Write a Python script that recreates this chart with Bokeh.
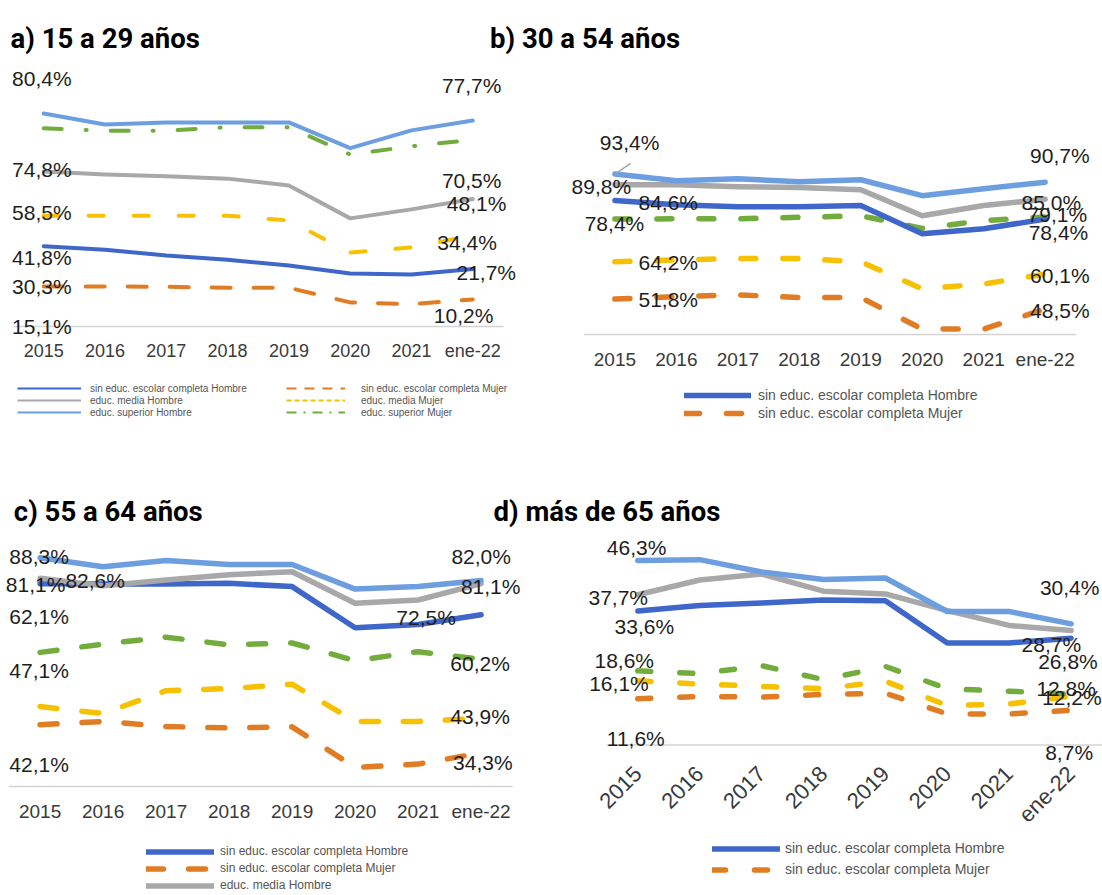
import math
import numpy as np
from bokeh.plotting import figure
from bokeh.models import (ColumnDataSource, Range1d, LabelSet, Label, Legend, LegendItem,
                          FixedTicker)
from bokeh.layouts import column, row
from bokeh.embed import file_html
from bokeh.resources import INLINE
from bokeh.core.properties import value

categories = ["2015", "2016", "2017", "2018", "2019", "2020", "2021", "ene-22"]

# a) 15 a 29 años
a_sin_h = [30.3, 29.0, 26.8, 25.2, 23.0, 20.0, 19.6, 21.7]
a_sin_m = [15.1, 15.1, 15.0, 14.6, 14.6, 9.1, 8.4, 10.2]
a_media_h = [58.5, 57.4, 56.7, 55.8, 53.2, 40.8, 44.2, 48.1]
a_media_m = [41.8, 41.8, 41.8, 41.8, 40.0, 27.9, 29.8, 34.4]
a_sup_h = [80.4, 76.2, 77.0, 77.0, 77.0, 67.3, 74.0, 77.7]
a_sup_m = [74.8, 73.9, 73.9, 75.2, 75.2, 64.9, 68.0, 70.5]

# b) 30 a 54 años
b_sin_h = [84.6, 83.2, 82.5, 82.5, 82.9, 73.5, 75.2, 78.4]
b_sin_m = [51.8, 52.6, 53.2, 52.3, 52.3, 41.8, 41.8, 48.5]
b_media_h = [89.8, 89.8, 89.2, 88.9, 88.2, 79.5, 82.9, 85.0]
b_media_m = [64.2, 64.8, 65.3, 65.3, 64.2, 55.2, 56.8, 60.1]
b_sup_h = [93.4, 91.2, 91.8, 90.8, 91.5, 86.2, 88.5, 90.7]
b_sup_m = [78.4, 78.5, 78.5, 79.0, 79.5, 75.3, 77.9, 79.1]

# c) 55 a 64 años
c_sin_h = [81.1, 81.0, 81.0, 81.2, 80.3, 68.9, 69.8, 72.5]
c_sin_m = [42.1, 43.0, 41.6, 41.2, 41.5, 30.3, 31.2, 34.3]
c_media_h = [82.6, 80.5, 82.1, 83.6, 84.4, 75.7, 76.6, 81.1]
c_media_m = [47.1, 45.2, 51.5, 52.1, 53.3, 43.0, 43.0, 43.9]
c_sup_h = [88.3, 85.8, 87.5, 86.4, 86.4, 79.6, 80.3, 82.0]
c_sup_m = [62.1, 64.4, 66.3, 64.2, 64.7, 59.8, 62.3, 60.2]

# d) más de 65 años
d_sin_h = [33.6, 35.0, 35.6, 36.4, 36.2, 25.6, 25.6, 26.8]
d_sin_m = [11.6, 12.2, 12.0, 12.7, 13.0, 7.8, 7.8, 8.7]
d_media_h = [37.7, 41.4, 42.9, 38.6, 37.9, 33.7, 30.0, 28.7]
d_media_m = [16.1, 15.3, 14.7, 14.1, 16.0, 9.9, 10.3, 12.2]
d_sup_h = [46.3, 46.5, 43.4, 41.5, 41.9, 33.5, 33.5, 30.4]
d_sup_m = [18.6, 17.9, 19.9, 16.4, 19.7, 14.1, 13.5, 12.8]

titles = ["a) 15 a 29 años", "b) 30 a 54 años", "c) 55 a 64 años", "d) más de 65 años"]

KEYS = ["sin_h", "sin_m", "media_h", "media_m", "sup_h", "sup_m"]
NAMES = {
    "sin_h": "sin educ. escolar completa Hombre",
    "sin_m": "sin educ. escolar completa Mujer",
    "media_h": "educ. media Hombre",
    "media_m": "educ. media Mujer",
    "sup_h": "educ. superior Hombre",
    "sup_m": "educ. superior Mujer",
}
COLORS = {
    "sin_h": "#3F66C9",
    "sin_m": "#E07C24",
    "media_h": "#A8A8A8",
    "media_m": "#F5C100",
    "sup_h": "#6D9EDF",
    "sup_m": "#72AC3C",
}

LABEL_FONT = "Liberation Sans"
TICK_FONT = "Liberation Sans"
N = len(categories)


def fmt(v):
    return f"{v:.1f}".replace(".", ",") + "%"


def pack(sin_h, sin_m, media_h, media_m, sup_h, sup_m):
    return dict(sin_h=sin_h, sin_m=sin_m, media_h=media_h, media_m=media_m,
                sup_h=sup_h, sup_m=sup_m)


def build_panel(data, canvas, cat0_px, cat_step, base_px, base_v, ppu, lw, dashes,
                tick_size, tick_standoff, orient, left_off, right_off, base_to_edge=False):
    # canvas: page-pixel box of this figure; the frame fills the whole canvas
    x0, x1, y0, y1 = canvas
    xs = (x0 - cat0_px) / cat_step
    xe = (x1 - cat0_px) / cat_step
    yt = base_v + (base_px - y0) / ppu
    yb = base_v - (y1 - base_px) / ppu
    p = figure(width=x1 - x0, height=y1 - y0, x_range=Range1d(xs, xe),
               y_range=Range1d(yb, yt), output_backend="svg", toolbar_location=None,
               y_axis_location=None, min_border=0)
    p.outline_line_color = None
    p.xgrid.visible = False
    p.ygrid.visible = False
    ax = p.xaxis[0]
    ax.fixed_location = base_v
    ax.ticker = FixedTicker(ticks=list(range(N)))
    ax.major_label_overrides = {i: c for i, c in enumerate(categories)}
    ax.axis_line_color = None
    ax.major_tick_line_color = None
    ax.minor_tick_line_color = None
    ax.major_tick_out = 0
    ax.major_tick_in = 0
    ax.major_label_text_font = TICK_FONT
    ax.major_label_text_font_size = tick_size
    ax.major_label_text_color = "#3A3A3A"
    ax.major_label_standoff = tick_standoff
    if orient:
        ax.major_label_orientation = orient

    # horizontal base line of the category axis
    base_right = xe if base_to_edge else N - 0.5
    p.line(x=[-0.5, base_right], y=[base_v, base_v], line_color="#D3D3D3", line_width=1.5)

    src = ColumnDataSource(dict(x=list(range(N)), **data))
    rends = {}
    for k in ["sin_m", "media_m", "sup_m", "sin_h", "media_h", "sup_h"]:
        kw = dict(line_color=COLORS[k], line_width=lw, line_join="round", line_cap="round")
        if k in dashes:
            kw["line_dash"] = dashes[k]
        rends[k] = p.line("x", k, source=src, **kw)

    lx, ly, lt, ldx, ldy = [], [], [], [], []
    for k in KEYS:
        for idx, off in ((0, left_off), (N - 1, right_off)):
            v = data[k][idx]
            lx.append(idx)
            ly.append(v)
            lt.append(fmt(v))
            ldx.append(off[k][0])
            ldy.append(off[k][1])
    lsrc = ColumnDataSource(dict(x=lx, y=ly, text=lt, dx=ldx, dy=ldy))
    labels = LabelSet(x="x", y="y", text="text", x_offset="dx", y_offset="dy",
                      source=lsrc, text_font=value(LABEL_FONT), text_font_size="21px",
                      text_color="#1E1E1E", text_baseline="middle", text_align="left")
    p.add_layout(labels)
    return p, rends


def add_legend(p, items, loc, glyph_w, standoff, row_h, font_size):
    leg = Legend(items=items, location=loc, padding=0, margin=0, spacing=0,
                 glyph_width=glyph_w, glyph_height=row_h, label_height=row_h,
                 label_standoff=standoff, label_text_font=LABEL_FONT,
                 label_text_font_size=font_size, label_text_color="#555555",
                 border_line_color=None, background_fill_alpha=0)
    p.add_layout(leg)


def title_row(height, items):
    t = figure(width=1102, height=height, x_range=Range1d(0, 1102), y_range=Range1d(0, height),
               output_backend="svg", toolbar_location=None, x_axis_location=None,
               y_axis_location=None, min_border=0)
    t.outline_line_color = None
    t.xgrid.visible = False
    t.ygrid.visible = False
    for text, x, y in items:
        t.add_layout(Label(x=x, y=y, x_units="screen", y_units="screen", text=text,
                           text_font="Roboto", text_font_style="bold",
                           text_font_size="27.5px", text_color="#000000",
                           text_baseline="alphabetic", text_align="left"))
    return t


# ---------- panel a ----------
off_a_left = {"sin_h": (-31.6, -40.3), "sin_m": (-31.6, -40), "media_h": (-31.6, -40.7),
              "media_m": (-31.6, -41.5), "sup_h": (-31.6, 35.2), "sup_m": (-31.6, -41.5)}
off_a_right = {"sin_h": (-16.3, -3.2), "sin_m": (-39, -16), "media_h": (-26, -4.8),
               "media_m": (-35.5, -6.9), "sup_h": (-30.9, 35.1), "sup_m": (-30.9, -40.8)}
pa, ra = build_panel(pack(a_sin_h, a_sin_m, a_media_h, a_media_m, a_sup_h, a_sup_m),
                     (0, 553, 60, 470), 43.2, 61.3, 326, 0, 2.65, 4,
                     {"sin_m": "19 23", "media_m": "15 30", "sup_m": "18 24 1 24"},
                     "18px", 14, None, off_a_left, off_a_right)
# thin legend keys (as in the original legend) - no visible data
proxy = ColumnDataSource(dict(x=np.array([0.0]), y=np.array([np.nan])))
prox = {}
proxy_dash = {"sin_m": "10 8", "media_m": "5 3", "sup_m": "10 7 2 7"}
for k in KEYS:
    kw = dict(line_color=COLORS[k], line_width=2)
    if k in proxy_dash:
        kw["line_dash"] = proxy_dash[k]
    prox[k] = pa.line("x", "y", source=proxy, **kw)
add_legend(pa, [LegendItem(label=NAMES[k], renderers=[prox[k]]) for k in ["sin_h", "media_h", "sup_h"]],
           (17, 52), 64, 9, 12, "10px")
add_legend(pa, [LegendItem(label=NAMES[k], renderers=[prox[k]]) for k in ["sin_m", "media_m", "sup_m"]],
           (286, 52), 59, 16, 12, "10px")

# ---------- panel b ----------
off_b_left = {"sin_h": (23.6, -1.9), "sin_m": (23.6, -0.7), "media_h": (-43.3, -1.8),
              "media_m": (23.6, -1.2), "sup_h": (-15.1, 31.6), "sup_m": (-30.2, -4.3)}
off_b_right = {"sin_h": (-16.5, -13.3), "sin_m": (-15.1, -1.7), "media_h": (-23.6, -3.1),
               "media_m": (-15.1, -1.6), "sup_h": (-15.1, 26.4), "sup_m": (-17.6, 3)}
pb, rb = build_panel(pack(b_sin_h, b_sin_m, b_media_h, b_media_m, b_sup_h, b_sup_m),
                     (553, 1102, 60, 470), 614.4, 61.47, 334, 40, 3.005, 5.5,
                     {"sin_m": "15 27", "media_m": "15 27", "sup_m": "15 27"},
                     "19px", 14, None, off_b_left, off_b_right)
# leader line from the first point to its label
pb.ray(x=[0], y=[b_sup_h[0]], length=19, length_units="screen", angle=0.6,
       line_color="#A5A5A5", line_width=1.5)
add_legend(pb, [LegendItem(label=NAMES[k], renderers=[rb[k]]) for k in ["sin_h", "sin_m"]],
           (131, 48), 67, 7, 18, "14px")

# ---------- panel c ----------
off_c_left = {"sin_h": (-34.3, -1.3), "sin_m": (-30.8, -40.3), "media_h": (25.3, -2.4),
              "media_m": (-30.8, 36.6), "sup_h": (-30.8, 1), "sup_m": (-30.8, 36)}
off_c_right = {"sin_h": (-84.8, -2.6), "sin_m": (-28, -10.1), "media_h": (-20.2, -3),
               "media_m": (-30.8, 1.8), "sup_h": (-29.7, 23.8), "sup_m": (-30.8, -4.7)}
pc, rc = build_panel(pack(c_sin_h, c_sin_m, c_media_h, c_media_m, c_sup_h, c_sup_m),
                     (0, 568, 530, 895), 39.6, 63.0, 786, 25, 3.615, 5.5,
                     {"sin_m": "17 25", "media_m": "17 25", "sup_m": "17 25"},
                     "19px", 14, None, off_c_left, off_c_right)
add_legend(pc, [LegendItem(label=NAMES[k], renderers=[rc[k]]) for k in ["sin_h", "sin_m", "media_h"]],
           (146, 1.5), 68, 6, 17, "12px")

# ---------- panel d ----------
off_d_left = {"sin_h": (-23.2, -15.4), "sin_m": (-31, -40), "media_h": (-49.3, -2.5),
              "media_m": (-48.6, -3), "sup_h": (-31, 13.2), "sup_m": (-43.3, 10.4)}
off_d_right = {"sin_h": (-32.9, -23), "sin_m": (-25.9, -41.9), "media_h": (-49.5, -14.2),
               "media_m": (-29, -0.8), "sup_h": (-31.2, 36), "sup_m": (-34.7, 5.2)}
pd_, rd = build_panel(pack(d_sin_h, d_sin_m, d_media_h, d_media_m, d_sup_h, d_sup_m),
                      (568, 1102, 530, 895), 637.3, 61.9, 744.5, 0, 3.986, 5.5,
                      {"sin_m": "13 29", "media_m": "13 29", "sup_m": "13 29"},
                      "22px", 25, math.pi / 4, off_d_left, off_d_right, base_to_edge=True)
add_legend(pd_, [LegendItem(label=NAMES[k], renderers=[rd[k]]) for k in ["sin_h", "sin_m"]],
           (144, 15.5), 68, 5, 21, "14px")

t1 = title_row(60, [(titles[0], 10, 21.7), (titles[1], 489.5, 21.7)])
t2 = title_row(60, [(titles[2], 13.3, 19), (titles[3], 493, 19)])

layout = column(t1, row(pa, pb, spacing=0), t2, row(pc, pd_, spacing=0), spacing=0)

with open("out.html", "w") as f:
    f.write(file_html(layout, INLINE))
